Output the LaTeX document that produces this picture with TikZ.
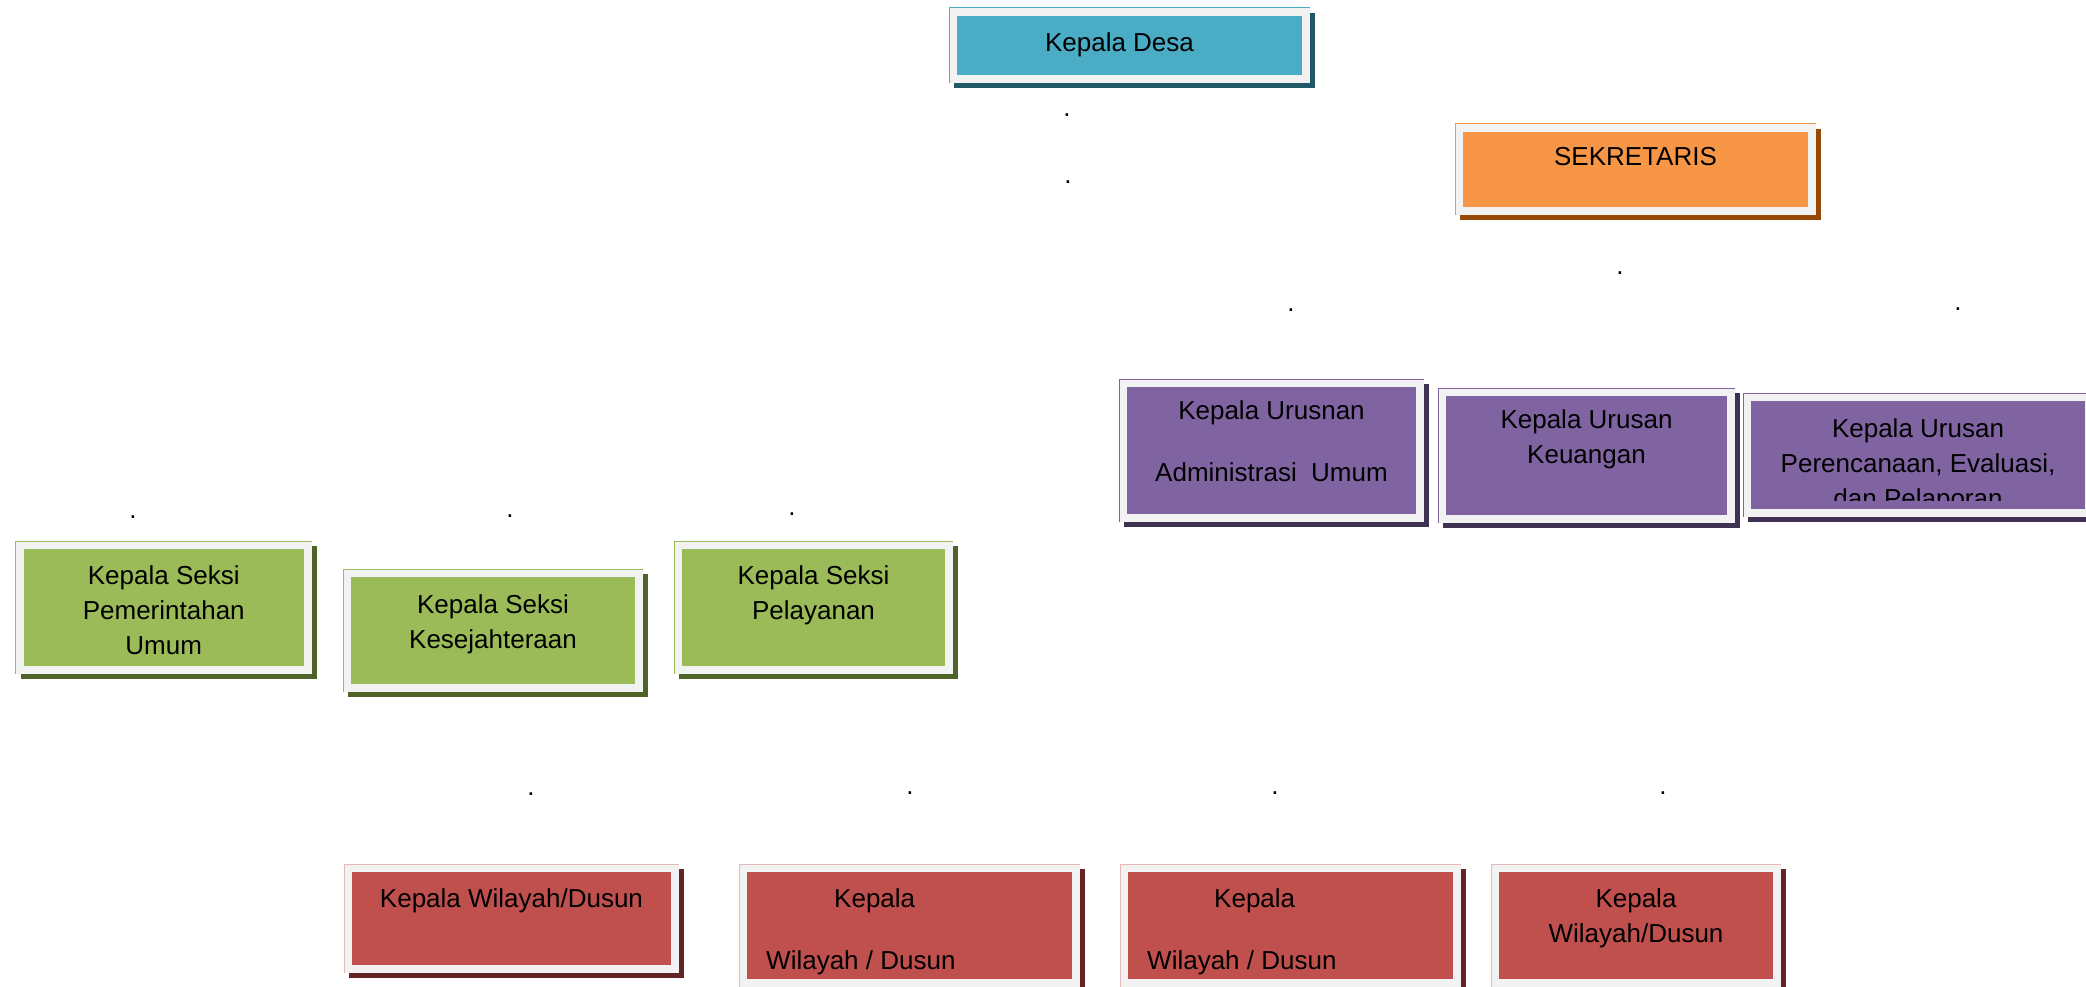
\documentclass[tikz,border=0pt]{standalone}
\usepackage{fontspec}
\setmainfont{Liberation Sans}
\usetikzlibrary{positioning}

\definecolor{framegray}{HTML}{F2F2F2}
\definecolor{desafill}{HTML}{4BACC6}
\definecolor{desashd}{HTML}{215968}
\definecolor{sekfill}{HTML}{F79646}
\definecolor{sekshd}{HTML}{984807}
\definecolor{urfill}{HTML}{8064A2}
\definecolor{urshd}{HTML}{3F3151}
\definecolor{seksifill}{HTML}{9BBB59}
\definecolor{seksishd}{HTML}{4F6228}
\definecolor{dsnfill}{HTML}{C0504D}
\definecolor{dsnshd}{HTML}{632523}

\begin{document}
\begin{tikzpicture}[x=1pt,y=-1pt,
    unit/.style 2 args={rectangle,fill=#1,draw=framegray,line width=8pt,
      preaction={fill=#2,draw=#2,line width=8pt,transform canvas={shift={(5pt,-5pt)}}}},
    txt/.style={font=\fontsize{26}{35}\selectfont,align=center,inner sep=0pt},
    dot/.style={font=\fontsize{26}{35}\selectfont,inner sep=0pt}]
  \useasboundingbox (0,0) rectangle (2086,987);

  % kepala desa dan sekretaris
  \node[unit={desafill}{desashd},minimum width=353pt,minimum height=67pt] (desa) at (1129.5,45.5) {};
  \node[unit={sekfill}{sekshd},minimum width=353pt,minimum height=83pt] (sek) at (1635.5,169.5) {};

  % kepala urusan
  \node[unit={urfill}{urshd},minimum width=297pt,minimum height=135pt] (adm) at (1271.5,450.5) {};
  \node[unit={urfill}{urshd},minimum width=289pt,minimum height=127pt] (keu) at (1586.5,455.5) {};
  \node[unit={urfill}{urshd},minimum width=342pt,minimum height=116pt] (ren) at (1918,455) {};

  % kepala seksi
  \node[unit={seksifill}{seksishd},minimum width=288.5pt,minimum height=125pt] (pem) at (163.75,607.5) {};
  \node[unit={seksifill}{seksishd},minimum width=292pt,minimum height=115pt] (kes) at (493,630.5) {};
  \node[unit={seksifill}{seksishd},minimum width=271pt,minimum height=125pt] (pel) at (813.5,607.5) {};

  % kepala wilayah
  \node[unit={dsnfill}{dsnshd},minimum width=327pt,minimum height=101pt] (dsn1) at (511.5,918.5) {};
  \node[unit={dsnfill}{dsnshd},minimum width=333pt,minimum height=115pt] (dsn2) at (909.5,925.5) {};
  \node[unit={dsnfill}{dsnshd},minimum width=333pt,minimum height=115pt] (dsn3) at (1290.5,925.5) {};
  \node[unit={dsnfill}{dsnshd},minimum width=282pt,minimum height=115pt] (dsn4) at (1636,925.5) {};

  \foreach \n/\c in {desa/desafill,sek/sekfill,adm/urfill,keu/urfill,ren/urfill,
                     pem/seksifill,kes/seksifill,pel/seksifill,
                     dsn1/dsnfill!40,dsn2/dsnfill!40,dsn3/dsnfill!40,dsn4/dsnfill!40}
    \draw[\c,line width=1pt] (\n.south west) |- (\n.north east);

  % teks
  \node[txt,below=24.5pt of desa.north,xshift=-10pt] (desa-t) {Kepala Desa};
  \node[txt,below=23pt of sek.north] (sek-t) {SEKRETARIS};
  \node[txt,below=21.5pt of adm.north] (adm-t) {Kepala Urusnan\\[27pt]Administrasi\ \ Umum};
  \node[txt,below=21pt of keu.north] (keu-t) {Kepala Urusan\\Keuangan};
  \begin{scope}
    \clip (1740,380) rectangle (2090,500);
    \node[txt,below=25.5pt of ren.north] (ren-t) {Kepala Urusan\\Perencanaan, Evaluasi,\\dan Pelaporan};
  \end{scope}
  \node[txt,below=24.5pt of pem.north] (pem-t) {Kepala Seksi\\Pemerintahan\\Umum};
  \node[txt,below=25.5pt of kes.north] (kes-t) {Kepala Seksi\\Kesejahteraan};
  \node[txt,below=24.5pt of pel.north] (pel-t) {Kepala Seksi\\Pelayanan};
  \node[txt,below=24.5pt of dsn1.north] (dsn1-t) {Kepala Wilayah/Dusun};
  \node[txt,align=left,below right=24.5pt and 27pt of dsn2.north west] (dsn2-t) {\hspace*{68pt}Kepala\\[27pt]Wilayah / Dusun};
  \node[txt,align=left,below right=24.5pt and 27pt of dsn3.north west] (dsn3-t) {\hspace*{67pt}Kepala\\[27pt]Wilayah / Dusun};
  \node[txt,below=24.5pt of dsn4.north] (dsn4-t) {Kepala\\Wilayah/Dusun};

  % titik
  \foreach \x/\y [count=\i] in {1067/115,1068/182,1620/273,1291/310,1958/309,133/517,
                                 510/516,792/514,531/794,910/793,1275/793,1663/793}
    \node[dot] (d\i) at (\x,\y) {.};
\end{tikzpicture}
\end{document}
